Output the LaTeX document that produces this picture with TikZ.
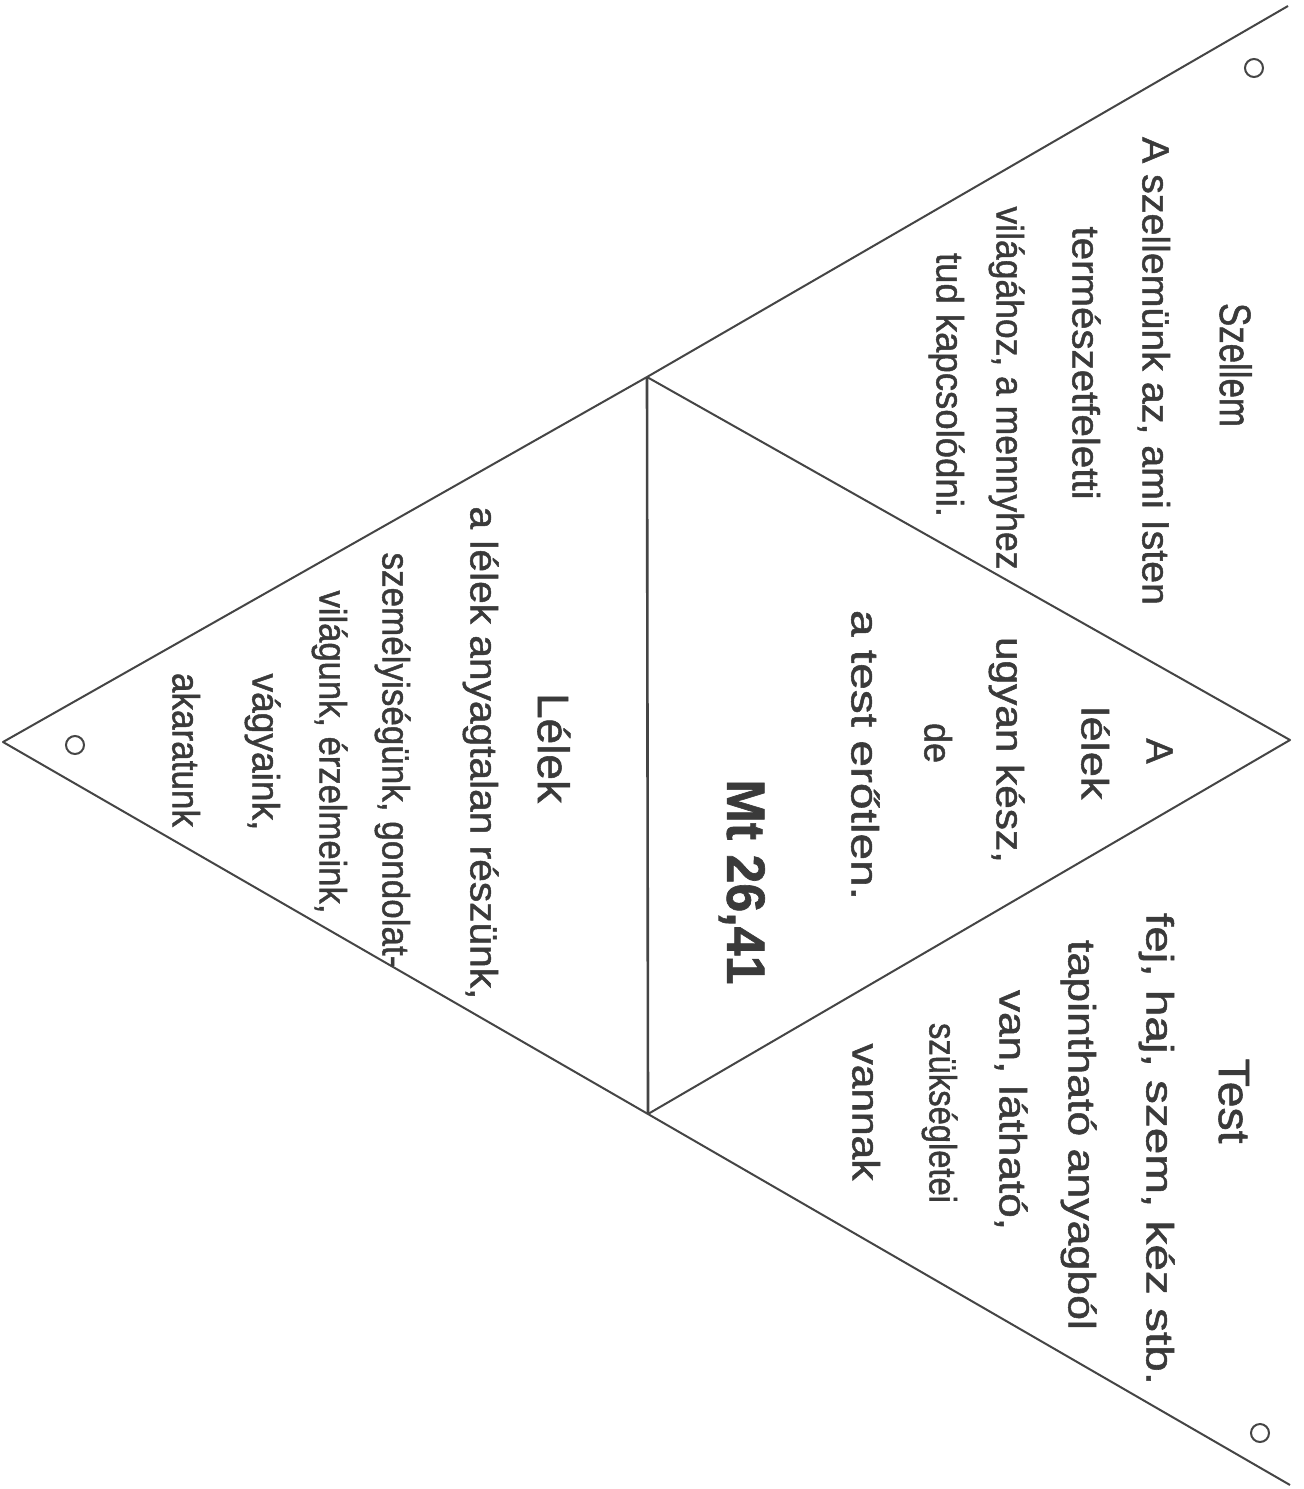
\documentclass[tikz,border=0pt]{standalone}
\usepackage{fontspec}
\newfontfamily\hand[FakeBold=1.2]{Liberation Sans}
\definecolor{ink}{HTML}{3A3A3A}
\definecolor{pen}{HTML}{454545}
\newcommand{\fitw}[2]{\resizebox{#1pt}{\height}{#2}}
\begin{document}
\begin{tikzpicture}[x=1pt,y=-1pt,
  edge/.style={draw=pen, line width=2pt, line join=round},
  hole/.style={draw=pen, line width=2pt},
  body/.style={rotate=-90, inner sep=0pt, text=ink, font=\hand\fontsize{38}{40}\selectfont, text height=28.5pt, text depth=7.6pt},
  head/.style={body, font=\hand\fontsize{44}{48}\selectfont, text height=33pt, text depth=8.8pt},
  ref/.style={body, font=\hand\bfseries\fontsize{54}{58}\selectfont, text height=40.5pt, text depth=10.8pt}]
\fill[white] (0,0) rectangle (1304,1489);
\useasboundingbox (0,0) rectangle (1304,1489);

% frame
\coordinate (apex) at (3,742);
\coordinate (tr) at (1288,6);
\coordinate (br) at (1290,1485);
\coordinate (jt) at (647,377);
\coordinate (jb) at (648,1114);
\coordinate (rv) at (1290,740);
\draw[edge] (tr) -- (jt) -- (apex) -- (jb) -- (br);
\draw[edge] (jt) -- (rv) -- (jb);
\draw[edge, line width=2.6pt] (jt) -- (jb);

% holes
\draw[hole] (1254,68) circle[radius=9pt];
\draw[hole] (1260,1433) circle[radius=9pt];
\draw[hole] (75,745) circle[radius=9pt];

% Szellem
\node[head] (szt) at (1232,365) {\fitw{124}{Szellem}};
\node[body] (sz1) at (1153,371) {\fitw{468}{A szellemünk az, ami Isten}};
\node[body] (sz2) at (1083,363) {\fitw{273}{természetfeletti}};
\node[body] (sz3) at (1007,388) {\fitw{363}{világához, a mennyhez}};
\node[body] (sz4) at (947,385) {\fitw{264}{tud kapcsolódni.}};

% middle
\node[body] (m1) at (1157,751) {A};
\node[body] (m2) at (1092,753) {\fitw{93}{lélek}};
\node[body] (m3) at (1007,750) {\fitw{226}{ugyan kész,}};
\node[body] (m4) at (935,743) {\fitw{40}{de}};
\node[body] (m5) at (862,755) {\fitw{290}{a test erőtlen.}};
\node[ref] (m6) at (742,882) {\fitw{205}{Mt 26,41}};

% Test
\node[head] (tt) at (1231,1101) {\fitw{85}{Test}};
\node[body] (t1) at (1157,1149) {\fitw{472}{fej, haj, szem, kéz stb.}};
\node[body] (t2) at (1079,1135) {\fitw{390}{tapintható anyagból}};
\node[body] (t3) at (1010,1110) {\fitw{240}{van, látható,}};
\node[body] (t4) at (940,1113) {\fitw{180}{szükségletei}};
\node[body] (t5) at (863,1112) {\fitw{137}{vannak}};

% Lelek
\node[head] (lt) at (550,748) {\fitw{110}{Lélek}};
\node[body] (l1) at (481,753) {\fitw{493}{a lélek anyagtalan részünk,}};
\node[body] (l2) at (393,760) {\fitw{415}{személyiségünk, gondolat-}};
\node[body] (l3) at (330,752) {\fitw{323}{világunk, érzelmeink,}};
\node[body] (l4) at (263,752) {\fitw{157}{vágyaink,}};
\node[body] (l5) at (183,750) {\fitw{154}{akaratunk}};
\end{tikzpicture}
\end{document}
